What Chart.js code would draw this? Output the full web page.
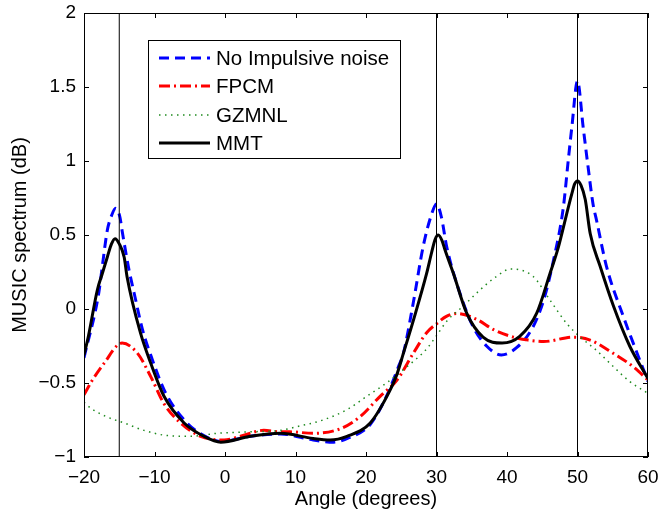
<!DOCTYPE html>
<html>
<head>
<meta charset="utf-8">
<script src="https://cdn.jsdelivr.net/npm/chart.js@4.4.1/dist/chart.umd.min.js"></script>
<style>
    html, body { margin: 0; padding: 0; background: #fff; }
    #chart-music { display: block; }
</style>
</head>
<body>
<canvas id="chart-music" width="659" height="512"></canvas>
<script>
// Values (angle in degrees, spectrum in dB)
const noiseFreeAngle = [-20, -17.9, -17.4, -16.7, -16.1, -15.5, -14.9, -14.6, -13.6, -12.9, -11.7, -10.4, -8.5, -5.6, -3, -0.5, 3.6, 7.9, 12.5, 15.4, 17.6, 20.6, 23, 24.6, 25.3, 26.7, 28.1, 29.3, 30, 30.7, 31.45, 33.3, 35.2, 37.1, 39.2, 41.4, 43.7, 45.2, 46.6, 48, 48.7, 49.2, 50, 50.8, 51.5, 52.2, 52.7, 54.1, 56.5, 60];
const noiseFreeDb = [-0.33, 0.11, 0.29, 0.53, 0.63, 0.68, 0.62, 0.53, 0.26, 0.11, -0.14, -0.33, -0.56, -0.76, -0.855, -0.895, -0.86, -0.845, -0.885, -0.9, -0.87, -0.78, -0.58, -0.39, -0.3, 0.04, 0.42, 0.64, 0.71, 0.62, 0.42, 0.11, -0.12, -0.25, -0.31, -0.26, -0.12, 0.06, 0.33, 0.69, 1.01, 1.23, 1.54, 1.23, 0.96, 0.71, 0.6, 0.29, -0.05, -0.49];

const fpcmAngle = [-20, -18.8, -17.2, -14.6, -12.4, -10.5, -8.65, -6.3, -3.45, -0.14, 2.2, 5.5, 7.9, 9.2, 12.5, 16.3, 19.1, 22, 24.4, 26.7, 28.6, 30, 31.4, 32.9, 35.7, 38.1, 40.9, 43, 45.2, 49.4, 51.8, 55.1, 57.9, 60];
const fpcmDb = [-0.58, -0.48, -0.37, -0.23, -0.3, -0.46, -0.64, -0.77, -0.86, -0.885, -0.86, -0.82, -0.83, -0.83, -0.84, -0.81, -0.73, -0.59, -0.48, -0.3, -0.16, -0.1, -0.05, -0.03, -0.07, -0.14, -0.19, -0.21, -0.22, -0.19, -0.21, -0.3, -0.39, -0.48];

const gzmnlAngle = [-20, -19.05, -16.7, -14.3, -11.5, -8.2, -4.9, -1.1, 3.6, 7.9, 10.2, 13.9, 17.3, 20.1, 22.9, 25.8, 28.6, 30, 31.5, 33.8, 36.2, 38.5, 40.5, 43.7, 46.1, 48.5, 50.4, 52.7, 55.1, 57.4, 60];
const gzmnlDb = [-0.63, -0.67, -0.73, -0.77, -0.82, -0.855, -0.86, -0.84, -0.83, -0.82, -0.795, -0.75, -0.68, -0.59, -0.5, -0.39, -0.27, -0.18, -0.08, 0.02, 0.13, 0.22, 0.27, 0.22, 0.06, -0.1, -0.19, -0.28, -0.39, -0.49, -0.57];

const mmtAngle = [-20, -19.4, -18.1, -17.4, -16.7, -16.1, -15.6, -15, -14.3, -13.9, -12, -10.5, -8.65, -5.8, -3, -0.6, 3.6, 7.9, 12.5, 14.9, 17.3, 20.6, 23.4, 24.4, 25.3, 26.7, 28.6, 29.3, 29.8, 30.26, 30.8, 31.2, 32.4, 34.3, 36.6, 39.3, 41.8, 44.2, 46.1, 47.3, 48.4, 49.2, 49.6, 50, 50.5, 51.1, 51.8, 53.2, 55.1, 57.4, 60];
const mmtDb = [-0.31, -0.19, 0.13, 0.24, 0.35, 0.44, 0.475, 0.44, 0.35, 0.22, -0.16, -0.37, -0.59, -0.77, -0.86, -0.9, -0.86, -0.84, -0.875, -0.885, -0.86, -0.77, -0.55, -0.44, -0.3, -0.08, 0.24, 0.38, 0.47, 0.5, 0.46, 0.4, 0.24, -0.03, -0.19, -0.23, -0.185, -0.03, 0.24, 0.42, 0.63, 0.78, 0.845, 0.865, 0.835, 0.74, 0.51, 0.29, 0.02, -0.25, -0.47];

// true source directions (thin vertical lines)
const sourceAngles = [-15, 30, 50];

const xTicks = [-20, -10, 0, 10, 20, 30, 40, 50, 60];
const yTicks = [-1, -0.5, 0, 0.5, 1, 1.5, 2];

const FONT = "'Liberation Sans', Arial, Helvetica, sans-serif";

function toPoints(xs, ys) {
    return xs.map((x, i) => ({ x: x, y: ys[i] }));
}

function minus(v) {
    return String(v).replace('-', '\u2212');
}

// no automatic room for the end tick labels: the axes box is fixed
function fixBox(size) {
    return scale => {
        if (scale.isHorizontal()) {
            scale.height = size;
        } else {
            scale.width = size;
        }
        scale.paddingLeft = 0;
        scale.paddingRight = 0;
        scale.paddingTop = 0;
        scale.paddingBottom = 0;
    };
}

const series = [
    { label: 'No Impulsive noise', data: toPoints(noiseFreeAngle, noiseFreeDb), borderColor: '#0000ff', borderWidth: 3, borderDash: [10, 6], order: 4 },
    { label: 'FPCM', data: toPoints(fpcmAngle, fpcmDb), borderColor: '#ff0000', borderWidth: 3, borderDash: [11, 4, 2, 4], order: 3 },
    { label: 'GZMNL', data: toPoints(gzmnlAngle, gzmnlDb), borderColor: '#1f8a1f', borderWidth: 1.5, borderDash: [1.5, 4.5], order: 2 },
    { label: 'MMT', data: toPoints(mmtAngle, mmtDb), borderColor: '#000000', borderWidth: 3, borderDash: [], order: 1 }
];

const datasets = series.map(s => ({
    label: s.label,
    data: s.data,
    borderColor: s.borderColor,
    borderWidth: s.borderWidth,
    borderDash: s.borderDash,
    order: s.order,
    pointRadius: 0,
    fill: false,
    cubicInterpolationMode: 'monotone'
}));

sourceAngles.forEach(a => {
    datasets.push({
        label: '',
        data: [{ x: a, y: -1 }, { x: a, y: 2 }],
        borderColor: '#000',
        borderWidth: 1,
        pointRadius: 0,
        order: 0
    });
});

// frame, inward ticks on all four sides, legend box inside the axes
const matlabAxes = {
    id: 'matlabAxes',
    afterDraw(chart) {
        const ctx = chart.ctx;
        const area = chart.chartArea;
        const xs = chart.scales.x;
        const ys = chart.scales.y;
        const tick = 5;

        ctx.save();
        ctx.strokeStyle = '#000';
        ctx.lineWidth = 1;
        ctx.setLineDash([]);
        ctx.strokeRect(area.left + 0.5, area.top + 0.5, area.right - area.left - 1, area.bottom - area.top - 1);

        ctx.beginPath();
        xTicks.forEach(v => {
            const px = Math.round(xs.getPixelForValue(v)) + 0.5;
            ctx.moveTo(px, area.bottom);
            ctx.lineTo(px, area.bottom - tick);
            ctx.moveTo(px, area.top);
            ctx.lineTo(px, area.top + tick);
        });
        yTicks.forEach(v => {
            const py = Math.round(ys.getPixelForValue(v)) + 0.5;
            ctx.moveTo(area.left, py);
            ctx.lineTo(area.left + tick, py);
            ctx.moveTo(area.right, py);
            ctx.lineTo(area.right - tick, py);
        });
        ctx.stroke();

        // legend
        const box = { left: 148, top: 40, width: 252, height: 118 };
        ctx.fillStyle = '#fff';
        ctx.fillRect(box.left, box.top, box.width, box.height);
        ctx.strokeRect(box.left + 0.5, box.top + 0.5, box.width, box.height);

        const rowY = [58, 86, 115, 143];
        ctx.font = '20.5px ' + FONT;
        ctx.textBaseline = 'middle';
        ctx.textAlign = 'left';
        series.forEach((s, i) => {
            const y = rowY[i];
            ctx.beginPath();
            ctx.strokeStyle = s.borderColor;
            ctx.lineWidth = s.borderWidth;
            ctx.setLineDash(s.borderDash);
            ctx.moveTo(159, y);
            ctx.lineTo(210, y);
            ctx.stroke();
            ctx.fillStyle = '#000';
            ctx.fillText(s.label, 216, y + 1);
        });
        ctx.restore();
    }
};

new Chart(
    document.getElementById('chart-music'),
    {
        type: 'line',
        data: { datasets: datasets },
        options: {
            responsive: false,
            animation: false,
            layout: {
                padding: { top: 13, right: 11, left: 0, bottom: 0 }
            },
            scales: {
                x: {
                    type: 'linear',
                    min: -20,
                    max: 60,
                    afterFit: fixBox(55),
                    afterBuildTicks: scale => { scale.ticks = xTicks.map(v => ({ value: v })); },
                    grid: { display: false, drawTicks: false },
                    border: { display: false },
                    ticks: {
                        padding: 9,
                        maxRotation: 0,
                        color: '#000',
                        font: { family: FONT, size: 19 },
                        callback: v => minus(v)
                    },
                    title: {
                        display: true,
                        text: 'Angle (degrees)',
                        color: '#000',
                        font: { family: FONT, size: 20 },
                        padding: { top: 0, bottom: 1 }
                    }
                },
                y: {
                    type: 'linear',
                    min: -1,
                    max: 2,
                    afterFit: fixBox(84),
                    afterBuildTicks: scale => { scale.ticks = yTicks.map(v => ({ value: v })); },
                    grid: { display: false, drawTicks: false },
                    border: { display: false },
                    ticks: {
                        padding: 8,
                        color: '#000',
                        font: { family: FONT, size: 19 },
                        callback: v => minus(v)
                    },
                    title: {
                        display: true,
                        text: 'MUSIC spectrum (dB)',
                        color: '#000',
                        font: { family: FONT, size: 20 },
                        padding: { top: 8, bottom: 0 }
                    }
                }
            },
            plugins: {
                legend: { display: false },
                tooltip: { enabled: false }
            }
        },
        plugins: [matlabAxes]
    }
);
</script>
</body>
</html>
